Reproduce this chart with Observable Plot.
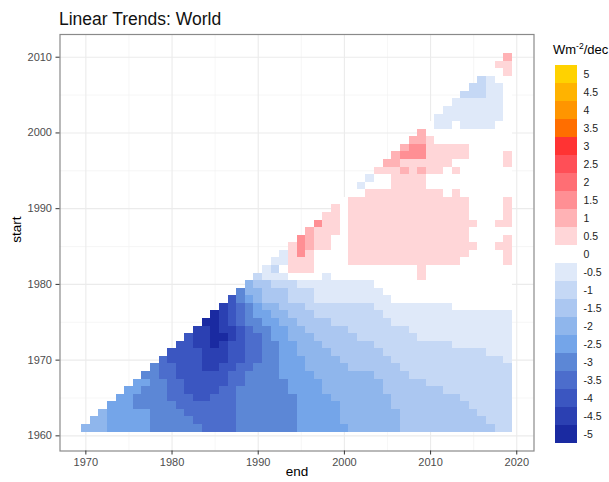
<!DOCTYPE html>
<html><head><meta charset="utf-8">
<script src="https://cdn.jsdelivr.net/npm/d3@7"></script>
<script src="https://cdn.jsdelivr.net/npm/@observablehq/plot@0.6"></script>
<style>
html,body{margin:0;padding:0;background:#fff;}
#wrap{position:relative;width:609px;height:482px;overflow:hidden;font-family:"Liberation Sans",Arial,Helvetica,sans-serif;}
#wrap svg{position:absolute;top:0;left:0;}
</style></head><body><div id="wrap"></div>
<script>
// start years (rows) and end years (columns); first end year of a row is start + 9
const startYears = d3.range(1961, 2011);
// run-length rows: letter = class, number = run length ('.' = 0)
const codeKey = "JIHGFEDCBA.abcdefghij"; // -5 ... 0 ... 5 in steps of 0.5
const rows = [
  "D3E5F6G4F7E6D6C11B2",
  "D2E5F5G5F7E5D7C10B3",
  "D1E5F4G6F7E5D7C9B4",
  "E3F5G7F7E5D6C9B5",
  "E2F4G3H2G3F7E4D7C8B6",
  "E2F3G2H4G2F6E4D7C7B8",
  "E2F2G2H5G2F5E4D7C5B10",
  "F2G2H6G2F4E4D7C4B12",
  "F1G2H3I2H2G2F3E3D5C6B13",
  "G1H4I3H2G2F2E3D4C6B13A1",
  "H4I3H2G2F2E2D4C6B12A3",
  "H2I2J1I1H2G2F2E2D3C6B9A7",
  "H1I2J2I1H1G2F1E2D3C5B7A11",
  "I2J1I2H1G1F2E2D2C5B7A12",
  "J2I1H1G1F2E2D2C4B7A14",
  "J1I1H1G1F1E2D2C3B8A15",
  "I1H1G1F1E1D2C3B8A9.7",
  "H1F1E1D1C3B3A9.14",
  "F1D2C3B3A8.15",
  "D1C2B3A9.16",
  "B1A3.4A1.10a1.10",
  "A1B1.1a3.12a1.10",
  "A2a3.4a13.5a1",
  "A1a1c1a1.4a14.4a1",
  "a1c1b1a2.2a15.2a2",
  "c1b1a2.2a14.4a1",
  "b1a3.1a14.5",
  "c1a2.1a15.2a2",
  "a2.1a14.4a1",
  "a1.1a14.4a1",
  ".1a14.4a1",
  ".2a9.1a1.6",
  "A1.3a4.10",
  "A1.2a4.10",
  "a3b1a1b1a2.1a1.6",
  "b2a6.6a1",
  "b1c3a5.4a1",
  "b1c2a5.5",
  "b2a1.9",
  "b1.10",
  ".1A2.1A4.2",
  "A8.1",
  "A7.1",
  "A6.1",
  "B3A2.1",
  "B2A2.1",
  "B1A1.2",
  ".2a1",
  "a2",
  "b1"
];
const legendValues = [5,4.5,4,3.5,3,2.5,2,1.5,1,0.5,0,-0.5,-1,-1.5,-2,-2.5,-3,-3.5,-4,-4.5,-5];
const legendLabels = ["5","4.5","4","3.5","3","2.5","2","1.5","1","0.5","0","-0.5","-1","-1.5","-2","-2.5","-3","-3.5","-4","-4.5","-5"];
const legendColors = ["#FFD200","#FFB300","#FF9500","#FF6E00","#FF3333","#FF4F57","#FF6E74","#FF8F94","#FFB2B5","#FFD6D8","#FFFFFF",
  "#DFE9F9","#C5D8F5","#ABC7F1","#8FB6EC","#74A5E9","#5C87D6","#4C6DCC","#3B56C1","#2B40B2","#1A2AA1"];
const xTicks = [1970,1980,1990,2000,2010,2020];
const yTicks = [1960,1970,1980,1990,2000,2010];
const xMinor = [1975,1985,1995,2005,2015];
const yMinor = [1965,1975,1985,1995,2005];

const cells = [];
const bad = [];
rows.forEach((row, i) => {
  const start = startYears[i];
  let j = 0;
  for (const m of row.matchAll(/([A-Ja-j.])(\d*)/g)) {
    const n = m[2] ? +m[2] : 1;
    const value = (codeKey.indexOf(m[1]) - 10) * 0.5;
    for (let k = 0; k < n; k++) { cells.push({start, end: start + 9 + j, value}); j++; }
  }
  if (j !== 2011 - start) bad.push(start + ":" + j);
});

const font = '"Liberation Sans",Arial,Helvetica,sans-serif';
const colorScale = {type: "ordinal", domain: legendValues, range: legendColors};

const main = Plot.plot({
  width: 609, height: 482,
  marginLeft: 59.5, marginRight: 75.5, marginTop: 34, marginBottom: 31.5,
  style: {fontFamily: font, background: "transparent", overflow: "visible"},
  x: {domain: [1967, 2022]},
  y: {domain: [1958, 2013]},
  color: colorScale,
  marks: [
    Plot.ruleX(xMinor, {stroke: "#f2f2f2", strokeWidth: 0.7}),
    Plot.ruleY(yMinor, {stroke: "#f2f2f2", strokeWidth: 0.7}),
    Plot.ruleX(xTicks, {stroke: "#ebebeb", strokeWidth: 1.1}),
    Plot.ruleY(yTicks, {stroke: "#ebebeb", strokeWidth: 1.1}),
    Plot.rect(cells, {x1: d => d.end - 0.5, x2: d => d.end + 0.5, y1: d => d.start - 0.5, y2: d => d.start + 0.5,
      fill: "value", shapeRendering: "crispEdges"}),
    Plot.frame({stroke: "#8a8a8a", strokeWidth: 1.2}),
    Plot.axisX(xTicks, {tickSize: 4, tickPadding: 3, tickFormat: d => String(d), fontSize: 11, fill: "#4d4d4d", stroke: "#333", label: null}),
    Plot.axisY(yTicks, {tickSize: 4, tickPadding: 4, tickFormat: d => String(d), fontSize: 11, fill: "#4d4d4d", stroke: "#333", label: null}),
    Plot.text(["end"], {frameAnchor: "bottom", dy: 25, fontSize: 13.5, fill: "#000"}),
    Plot.text(["start"], {frameAnchor: "left", dx: -43, rotate: -90, fontSize: 13.5, fill: "#000"})
  ]
});
d3.select(main).append("text").attr("x", 59).attr("y", 25).attr("font-size", 17.5).attr("fill", "#111")
  .attr("text-anchor", "start").text("Linear Trends: World");
if (bad.length) d3.select(main).append("text").attr("x", 100).attr("y", 100).attr("fill", "red").text(bad.join(" "));

const legendData = legendValues.map((v, i) => ({value: v, label: legendLabels[i]}));
const leg = Plot.plot({
  width: 64, height: 482, margin: 0,
  style: {fontFamily: font, background: "transparent", overflow: "visible"},
  x: {domain: [0, 1], range: [10, 32], axis: null},
  y: {type: "band", domain: legendLabels, range: [61, 446], padding: 0, axis: null},
  color: colorScale,
  marks: [
    Plot.barX(legendData, {x1: 0, x2: 1, y: "label", fill: "value", shapeRendering: "crispEdges"}),
    Plot.text(legendData, {x: 1, y: "label", text: "label", dx: 6, textAnchor: "start", fontSize: 10.5, fill: "#222"})
  ]
});
const lt = d3.select(leg).append("text").attr("x", 8).attr("y", 54).attr("font-size", 13)
  .attr("fill", "#000").attr("text-anchor", "start");
lt.append("tspan").text("Wm");
lt.append("tspan").attr("font-size", 8.5).attr("dy", -5).text("-2");
lt.append("tspan").attr("dy", 5).text("/dec");
leg.style.left = "545px";

const wrap = document.getElementById("wrap");
wrap.appendChild(main);
wrap.appendChild(leg);
</script></body></html>
